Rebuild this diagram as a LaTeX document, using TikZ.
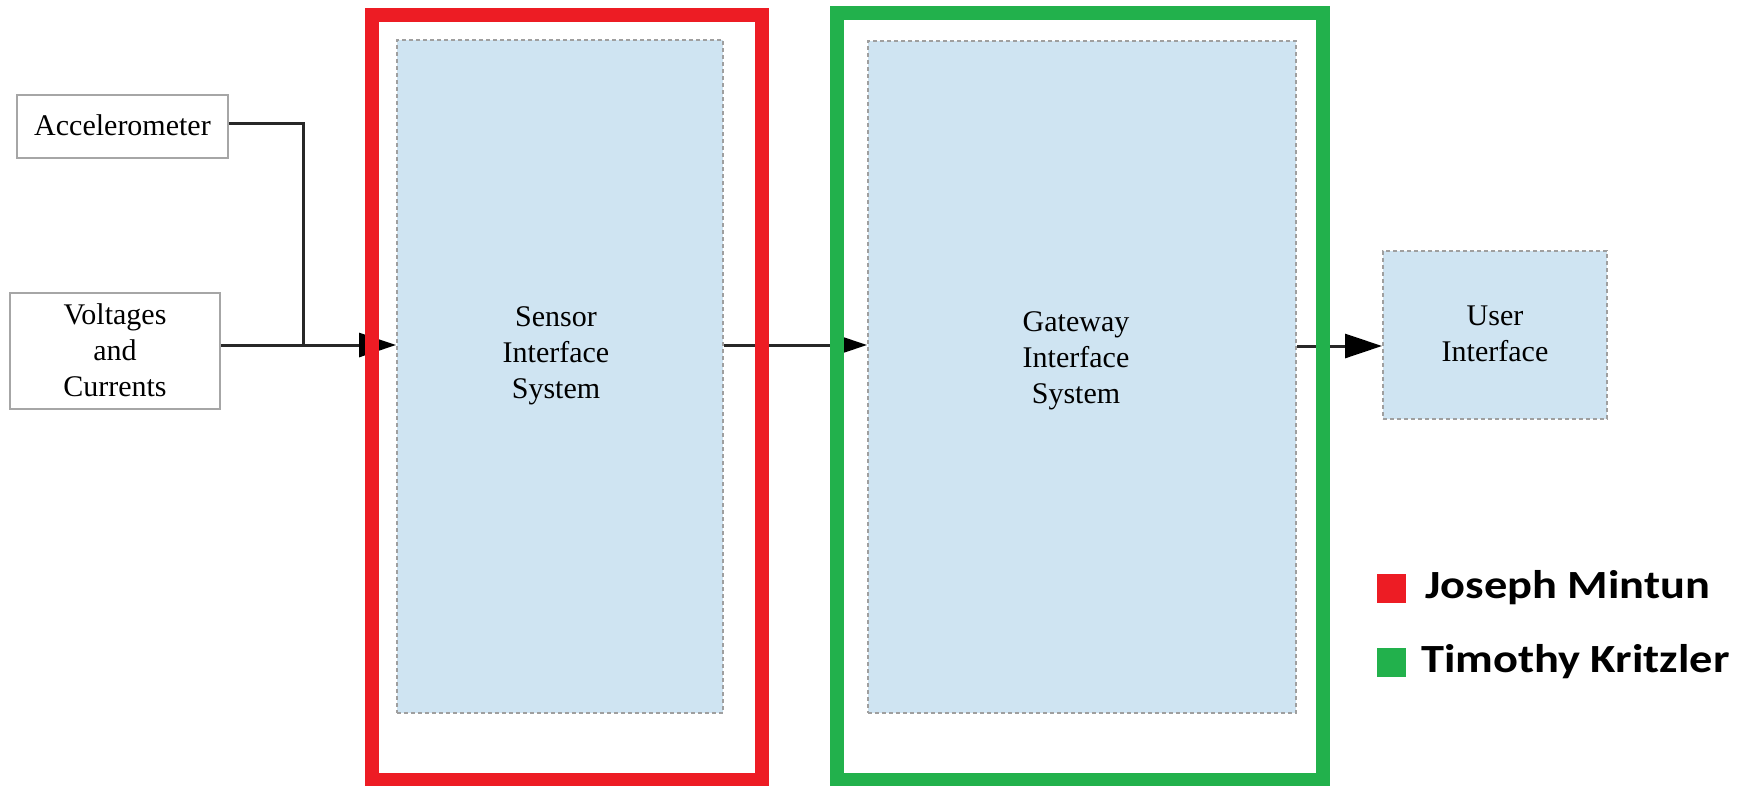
\documentclass[tikz,border=0pt]{standalone}
\usepackage{fontspec}
\setmainfont{Liberation Serif}
\newfontfamily\legendfont[FakeStretch=1.16]{Carlito}
\usetikzlibrary{arrows.meta}
\definecolor{boxblue}{RGB}{207,228,242}
\definecolor{framered}{RGB}{237,28,36}
\definecolor{framegreen}{RGB}{34,177,76}
\definecolor{linegray}{RGB}{40,40,40}
\tikzset{
  sysbox/.style={draw=gray!75, fill=boxblue, line width=2pt, dash pattern=on 4pt off 3pt, inner sep=0pt},
  srcbox/.style={draw=gray!70, fill=white, line width=2.5pt, inner sep=0pt},
  lbl/.style={font=\fontsize{30}{36}\selectfont, align=center, inner sep=0pt},
  conn/.style={draw=linegray, line width=3pt},
  arr/.style={conn, -{Triangle[length=37pt,width=24pt,fill=black,color=black]}},
  frame/.style={line width=14pt},
  legsq/.style={minimum size=29pt, inner sep=0pt},
  legtxt/.style={font=\legendfont\bfseries\fontsize{40}{48}\selectfont, anchor=west, inner sep=0pt}
}
\begin{document}
\begin{tikzpicture}[x=1pt,y=-1pt]
\useasboundingbox (0,0) rectangle (1745,785);
% boxes
\node[srcbox, minimum width=211pt, minimum height=63pt] (acc) at (122.5,126.5) {};
\node[lbl] (acct) at (122.5,125) {Accelerometer};
\node[srcbox, minimum width=210pt, minimum height=116pt] (volt) at (115,351) {};
\node[lbl] (voltt) at (115,350) {Voltages\\and\\Currents};
\node[sysbox, minimum width=326pt, minimum height=673pt] (sis) at (560,376.5) {};
\node[lbl] (sist) at (556,356) {Sensor\\Interface\\System};
\node[sysbox, minimum width=428pt, minimum height=672pt] (gis) at (1082,377) {};
\node[lbl] (gist) at (1076,361) {Gateway\\Interface\\System};
\node[sysbox, minimum width=224pt, minimum height=168pt] (ui) at (1495,335) {};
\node[lbl] (uit) at (1495,334) {User\\Interface};
% connectors
\coordinate (j) at (303,345);
\draw[conn] (acc.east |- 0,123) -| (j);
\draw[arr] (j -| volt.east) -- (j -| sis.west);
\draw[arr] (j -| sis.east) -- (j -| gis.west);
\draw[arr] (gis.east |- 0,346) -- (ui.west |- 0,346);
% frames
\draw[framered, frame] (372,15) rectangle (761.5,780);
\draw[framegreen, frame] (837,13) rectangle (1323,780);
% legend
\node[legsq, fill=framered] (lr) at (1391,588) {};
\node[legtxt] (lrt) at (1425,588) {Joseph Mintun};
\node[legsq, fill=framegreen] (lg) at (1391,662) {};
\node[legtxt] (lgt) at (1421,662) {Timothy Kritzler};
\end{tikzpicture}
\end{document}
